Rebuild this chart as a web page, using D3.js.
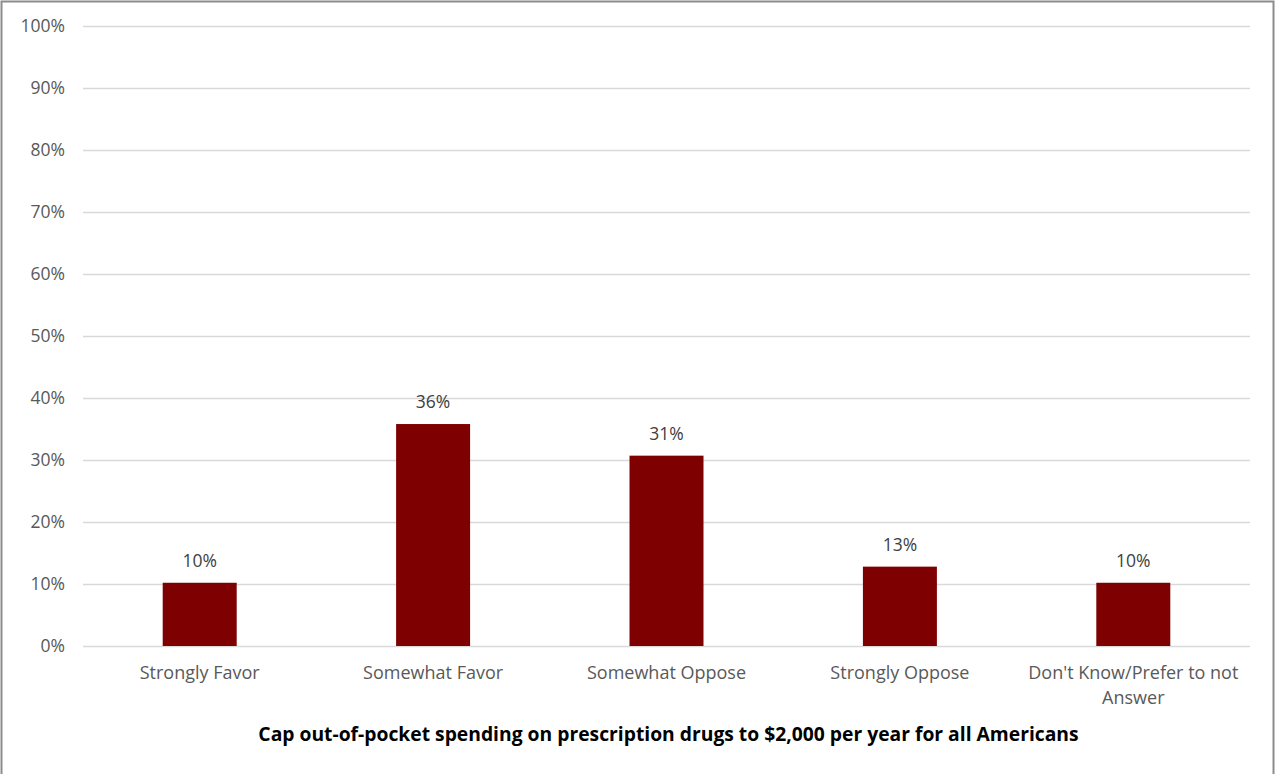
<!DOCTYPE html>
<html>
<head>
<meta charset="utf-8">
<script src="https://cdn.jsdelivr.net/npm/d3@7"></script>
<style>
html,body{margin:0;padding:0;background:#fff;}
svg{display:block;}
</style>
</head>
<body>
<svg id="chart" width="1276" height="774"></svg>
<script>
const categories = ["Strongly Favor", "Somewhat Favor", "Somewhat Oppose", "Strongly Oppose", "Don't Know/Prefer to not Answer"];
const values = [0.102, 0.358, 0.307, 0.128, 0.102];
const yTicks = [0, 0.1, 0.2, 0.3, 0.4, 0.5, 0.6, 0.7, 0.8, 0.9, 1.0];
const title = "Cap out-of-pocket spending on prescription drugs to $2,000 per year for all Americans";

const svg = d3.select("#chart");
const W = 1276, H = 774;
const m = {left: 83, right: 26, top: 26, bottom: 128};
const font = "'Open Sans', sans-serif";

svg.append("rect").attr("x", 1.5).attr("y", 1.5).attr("width", 1272).attr("height", 790)
  .attr("fill", "#fff").attr("stroke", "#8c8c8c").attr("stroke-width", 2);

const x = d3.scaleBand().domain(categories).range([m.left, W - m.right]).paddingInner(0.683).paddingOuter(0.3415);
const y = d3.scaleLinear().domain([0, 1]).range([H - m.bottom, m.top]);

const yAxis = svg.append("g").attr("transform", `translate(${m.left},0)`)
  .call(d3.axisLeft(y).tickValues(yTicks).tickFormat(d3.format(".0%")).tickSize(-(W - m.right - m.left)).tickPadding(18));
yAxis.select(".domain").remove();
yAxis.selectAll(".tick line").attr("stroke", "#d9d9d9").attr("stroke-width", 1.5);
yAxis.selectAll(".tick text").attr("fill", "#595959").style("font-family", font).style("font-size", "17.5px");

svg.append("g").selectAll("rect").data(values).join("rect")
  .attr("x", (d, i) => x(categories[i]))
  .attr("y", d => y(d))
  .attr("width", x.bandwidth())
  .attr("height", d => y(0) - y(d))
  .attr("fill", "#7f0000");

svg.append("g").selectAll("text").data(values).join("text")
  .attr("x", (d, i) => x(categories[i]) + x.bandwidth() / 2)
  .attr("y", d => y(d) - 16)
  .attr("text-anchor", "middle")
  .attr("fill", "#404040")
  .style("font-family", font).style("font-size", "17.5px")
  .text(d => d3.format(".0%")(d));

const xAxis = svg.append("g").attr("transform", `translate(0,${y(0)})`)
  .call(d3.axisBottom(x).tickSize(0).tickPadding(20));
xAxis.select(".domain").remove();
xAxis.selectAll(".tick text").attr("fill", "#595959").style("font-family", font).style("font-size", "18px")
  .each(function(d) {
    const t = d3.select(this);
    if (d === "Don't Know/Prefer to not Answer") {
      t.text(null);
      t.append("tspan").attr("x", 0).attr("dy", "0.71em").text("Don't Know/Prefer to not");
      t.append("tspan").attr("x", 0).attr("dy", "1.4em").text("Answer");
      t.attr("dy", null);
    }
  });

svg.append("text").attr("x", (m.left + W - m.right) / 2 + 2).attr("y", 741)
  .attr("text-anchor", "middle").attr("fill", "#000")
  .style("font-family", font).style("font-size", "19.3px").style("font-weight", "bold")
  .text(title);
</script>
</body>
</html>
